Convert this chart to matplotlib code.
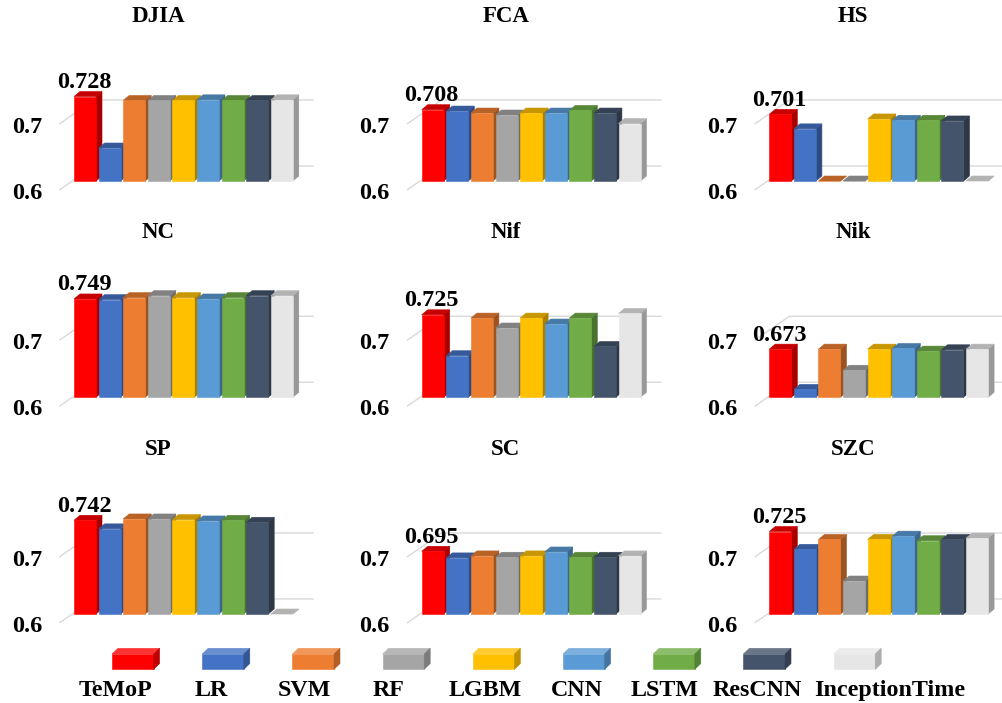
import matplotlib
matplotlib.use("Agg")
import matplotlib.pyplot as plt
from matplotlib.patches import Polygon
import numpy as np

# ---------------- data ----------------
models = ['TeMoP', 'LR', 'SVM', 'RF', 'LGBM', 'CNN', 'LSTM', 'ResCNN', 'InceptionTime']
colors = ['#FF0000', '#4472C4', '#ED7D31', '#A5A5A5', '#FFC000', '#5B9BD5', '#70AD47', '#44546A', '#E7E6E6']
datasets = ['DJIA', 'FCA', 'HS', 'NC', 'Nif', 'Nik', 'SP', 'SC', 'SZC']

DJIA = [0.728, 0.650, 0.722, 0.722, 0.722, 0.723, 0.722, 0.722, 0.723]
FCA = [0.708, 0.706, 0.703, 0.700, 0.703, 0.703, 0.707, 0.703, 0.687]
HS = [0.701, 0.679, 0.600, 0.600, 0.694, 0.692, 0.692, 0.691, 0.600]
NC = [0.749, 0.748, 0.751, 0.754, 0.751, 0.749, 0.751, 0.754, 0.754]
Nif = [0.725, 0.663, 0.720, 0.705, 0.720, 0.711, 0.720, 0.677, 0.727]
Nik = [0.673, 0.612, 0.673, 0.641, 0.673, 0.674, 0.670, 0.672, 0.673]
SP = [0.742, 0.729, 0.744, 0.744, 0.743, 0.741, 0.742, 0.739, 0.600]
SC = [0.695, 0.685, 0.688, 0.686, 0.688, 0.694, 0.686, 0.686, 0.688]
SZC = [0.725, 0.698, 0.713, 0.650, 0.713, 0.718, 0.711, 0.713, 0.715]
values = [DJIA, FCA, HS, NC, Nif, Nik, SP, SC, SZC]
ticks = [0.6, 0.7]
base = 0.6

# ---------------- layout ----------------
W, H = 1002, 703
fig = plt.figure(figsize=(W / 100, H / 100), dpi=100)
FONT = dict(family='Liberation Serif', weight='bold')

P = 24.6      # pixels per bar slot
S = 660.0     # pixels per value unit
col_x0 = [74, 421.7, 769.3]     # left edge of first bar (px)
row_yb = [181, 397.3, 614]      # front bottom of bars (px)
w = 22 / P
dx, dy = 6 / P, 5 / S


def shade(c, f):
    r, g, b = matplotlib.colors.to_rgb(c)
    return (r * f, g * f, b * f)


def tint(c, f):
    r, g, b = matplotlib.colors.to_rgb(c)
    return (r + (1 - r) * f, g + (1 - g) * f, b + (1 - b) * f)


for k, (name, vals) in enumerate(zip(datasets, values)):
    r, c = divmod(k, 3)
    x0, yb = col_x0[c], row_yb[r]
    left, right = x0 - 74, x0 + 250
    top, bottom = yb - 185, yb + 25
    ax = fig.add_axes([left / W, (H - bottom) / H, (right - left) / W, (bottom - top) / H])
    ax.set_xlim((left - x0 - 11) / P, (right - x0 - 11) / P)
    ax.set_ylim(base - (bottom - yb) / S, base + (yb - top) / S)
    ax.axis('off')

    # wall gridlines
    for t in ticks:
        ax.plot([-1.02, 0.37, 9.27], [t - 0.013, t + 0.0228, t + 0.0228],
                color='#D9D9D9', lw=1, zorder=1, clip_on=False)
        ax.text(-1.75, t - 0.027, f'{t:.1f}', ha='right', va='baseline',
                fontsize=17.5, clip_on=False, **FONT)

    # 3D bars
    for i, (v, col) in enumerate(zip(vals, colors)):
        v = max(v, base)
        xl, xr = i - w / 2, i + w / 2
        front = Polygon([(xl, base), (xr, base), (xr, v), (xl, v)], closed=True,
                        facecolor=col, edgecolor=col, lw=0.4, zorder=3 + i * 0.01)
        side = Polygon([(xr, base), (xr + dx, base + dy), (xr + dx, v + dy), (xr, v)], closed=True,
                       facecolor=shade(col, 0.66), edgecolor=shade(col, 0.66), lw=0.4,
                       zorder=3 + i * 0.01 - 0.005)
        topf = Polygon([(xl, v), (xr, v), (xr + dx, v + dy), (xl + dx, v + dy)], closed=True,
                       facecolor=shade(col, 0.78), edgecolor=shade(col, 0.78), lw=0.4,
                       zorder=3 + i * 0.01 - 0.004)
        for p in (side, topf, front):
            p.set_clip_on(False)
            ax.add_patch(p)

    # data label for TeMoP
    ax.text(-0.04, vals[0] + 0.013, f'{vals[0]:.3f}', ha='center', va='baseline',
            fontsize=17.5, zorder=10, clip_on=False, **FONT)
    # title
    ax.text(2.97, 0.841, name, ha='center', va='baseline', fontsize=16.5,
            clip_on=False, **FONT)

# ---------------- legend ----------------
lax = fig.add_axes([0, 0, 1, 73 / H])
lax.set_xlim(0, W)
lax.set_ylim(703, 630)
lax.axis('off')
box_left = [112 + 90.2 * i for i in range(len(models))]
label_x = [115, 211, 304, 389, 485, 577, 665, 757, 890]
bw, bh, bdx, bdy = 41.6, 15.3, 6, 5.7
yfb = 669.3
for m, col, bl, lx in zip(models, colors, box_left, label_x):
    ft = yfb - bh
    lax.add_patch(Polygon([(bl, yfb), (bl + bw, yfb), (bl + bw, ft), (bl, ft)],
                          facecolor=col, edgecolor=col, lw=0.4))
    lax.add_patch(Polygon([(bl, ft), (bl + bw, ft), (bl + bw + bdx, ft - bdy), (bl + bdx, ft - bdy)],
                          facecolor=tint(col, 0.2), edgecolor=tint(col, 0.2), lw=0.4))
    lax.add_patch(Polygon([(bl + bw, yfb), (bl + bw + bdx, yfb - bdy), (bl + bw + bdx, ft - bdy), (bl + bw, ft)],
                          facecolor=shade(col, 0.75), edgecolor=shade(col, 0.75), lw=0.4))
    lax.text(lx, 696, m, ha='center', va='baseline', fontsize=17.3, **FONT)

fig.savefig('out.png', dpi=100, facecolor='white')
